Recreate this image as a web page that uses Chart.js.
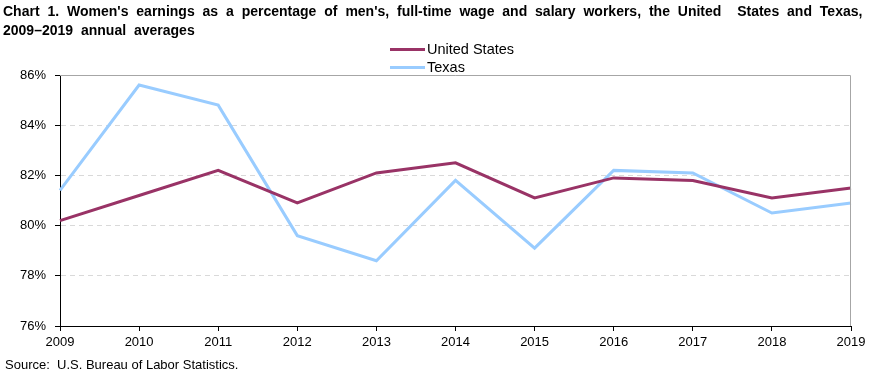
<!DOCTYPE html>
<html lang="en">
<head>
    <meta charset="UTF-8">
    <title>Women's earnings as a percentage of men's</title>
    <script src="https://cdn.jsdelivr.net/npm/chart.js"></script>
    <style>
        body {
            margin: 0;
            padding: 0;
            background: #fff;
            font-family: "Liberation Sans", Arial, sans-serif;
        }

        .wrap {
            position: relative;
            width: 880px;
            height: 371px;
            overflow: hidden;
        }

        .title {
            position: absolute;
            left: 3px;
            top: 2px;
            font-size: 14px;
            font-weight: bold;
            word-spacing: 4px;
            line-height: 19px;
            color: #000;
            white-space: nowrap;
        }

        .legend {
            position: absolute;
            left: 390px;
            top: 40px;
            font-size: 14.5px;
            line-height: 18px;
            color: #000;
        }

        .legend div {
            display: flex;
            align-items: center;
        }

        .legend span.swatch {
            display: inline-block;
            width: 35px;
            height: 3px;
            margin-right: 2px;
        }

        .source {
            position: absolute;
            left: 5px;
            top: 357px;
            font-size: 13px;
            color: #000;
        }

        canvas {
            position: absolute;
            left: 0;
            top: 0;
        }
    </style>
</head>
<body>
    <div class="wrap">
        <canvas id="chart" width="880" height="371"></canvas>
        <div class="title">Chart 1. Women's earnings as a percentage of men's, full-time wage and salary workers, the United&nbsp; States and Texas,<br>2009–2019 annual averages</div>
        <div class="legend" id="legend"></div>
        <div class="source">Source:&nbsp; U.S. Bureau of Labor Statistics.</div>
    </div>

    <script>
        // data
        const years = ['2009', '2010', '2011', '2012', '2013', '2014', '2015', '2016', '2017', '2018', '2019'];
        const unitedStates = [80.2, 81.2, 82.2, 80.9, 82.1, 82.5, 81.1, 81.9, 81.8, 81.1, 81.5];
        const texas = [81.4, 85.6, 84.8, 79.6, 78.6, 81.8, 79.1, 82.2, 82.1, 80.5, 80.9];
        const yTicks = [76, 78, 80, 82, 84, 86];

        const seriesNames = ['United States', 'Texas'];
        const seriesColors = ['#993366', '#99CCFF'];

        // simple html legend, stacked like the original
        const legend = document.getElementById('legend');
        seriesNames.forEach(function (name, i) {
            const row = document.createElement('div');
            row.innerHTML = '<span class="swatch" style="background:' + seriesColors[i] + '"></span>' + name;
            legend.appendChild(row);
        });

        // grey frame on top and right of the plot
        const framePlugin = {
            id: 'frame',
            afterDraw(chart) {
                const a = chart.chartArea;
                const ctx = chart.ctx;
                ctx.save();
                ctx.strokeStyle = '#a6a6a6';
                ctx.lineWidth = 1;
                ctx.beginPath();
                ctx.moveTo(a.left, a.top + 0.5);
                ctx.lineTo(a.right - 0.5, a.top + 0.5);
                ctx.lineTo(a.right - 0.5, a.bottom);
                ctx.stroke();
                ctx.restore();
            }
        };

        const ctx = document.getElementById('chart').getContext('2d');
        new Chart(ctx, {
            type: 'line',
            data: {
                labels: years,
                datasets: [
                    {
                        label: seriesNames[0],
                        data: unitedStates,
                        borderColor: seriesColors[0],
                        borderWidth: 3,
                        pointRadius: 0,
                        tension: 0,
                        fill: false
                    },
                    {
                        label: seriesNames[1],
                        data: texas,
                        borderColor: seriesColors[1],
                        borderWidth: 3,
                        pointRadius: 0,
                        tension: 0,
                        fill: false
                    }
                ]
            },
            options: {
                responsive: false,
                animation: false,
                layout: {
                    padding: { left: 0, top: 75, right: 29, bottom: 0 }
                },
                plugins: {
                    legend: { display: false },
                    title: { display: false },
                    tooltip: { enabled: false }
                },
                scales: {
                    x: {
                        offset: false,
                        afterFit: function (scale) { scale.height = 45; },
                        grid: {
                            drawOnChartArea: false,
                            drawTicks: true,
                            tickLength: 5,
                            tickColor: '#000',
                            offset: false
                        },
                        border: { color: '#000', width: 1 },
                        ticks: {
                            color: '#000',
                            font: { family: 'Liberation Sans', size: 13 },
                            maxRotation: 0,
                            autoSkip: false,
                            padding: 4
                        }
                    },
                    y: {
                        min: 76,
                        max: 86,
                        afterFit: function (scale) { scale.width = 60; },
                        afterBuildTicks: function (scale) {
                            scale.ticks = yTicks.map(function (v) { return { value: v }; });
                        },
                        grid: {
                            color: function (c) {
                                return (c.tick && (c.tick.value === 76 || c.tick.value === 86)) ? 'rgba(0,0,0,0)' : '#d9d9d9';
                            },
                            tickColor: '#000',
                            tickLength: 5,
                            lineWidth: 1
                        },
                        border: { color: '#000', width: 1, dash: [5, 4] },
                        ticks: {
                            color: '#000',
                            font: { family: 'Liberation Sans', size: 13 },
                            padding: 9,
                            callback: function (v) { return v + '%'; }
                        }
                    }
                }
            },
            plugins: [framePlugin]
        });
    </script>
</body>
</html>
